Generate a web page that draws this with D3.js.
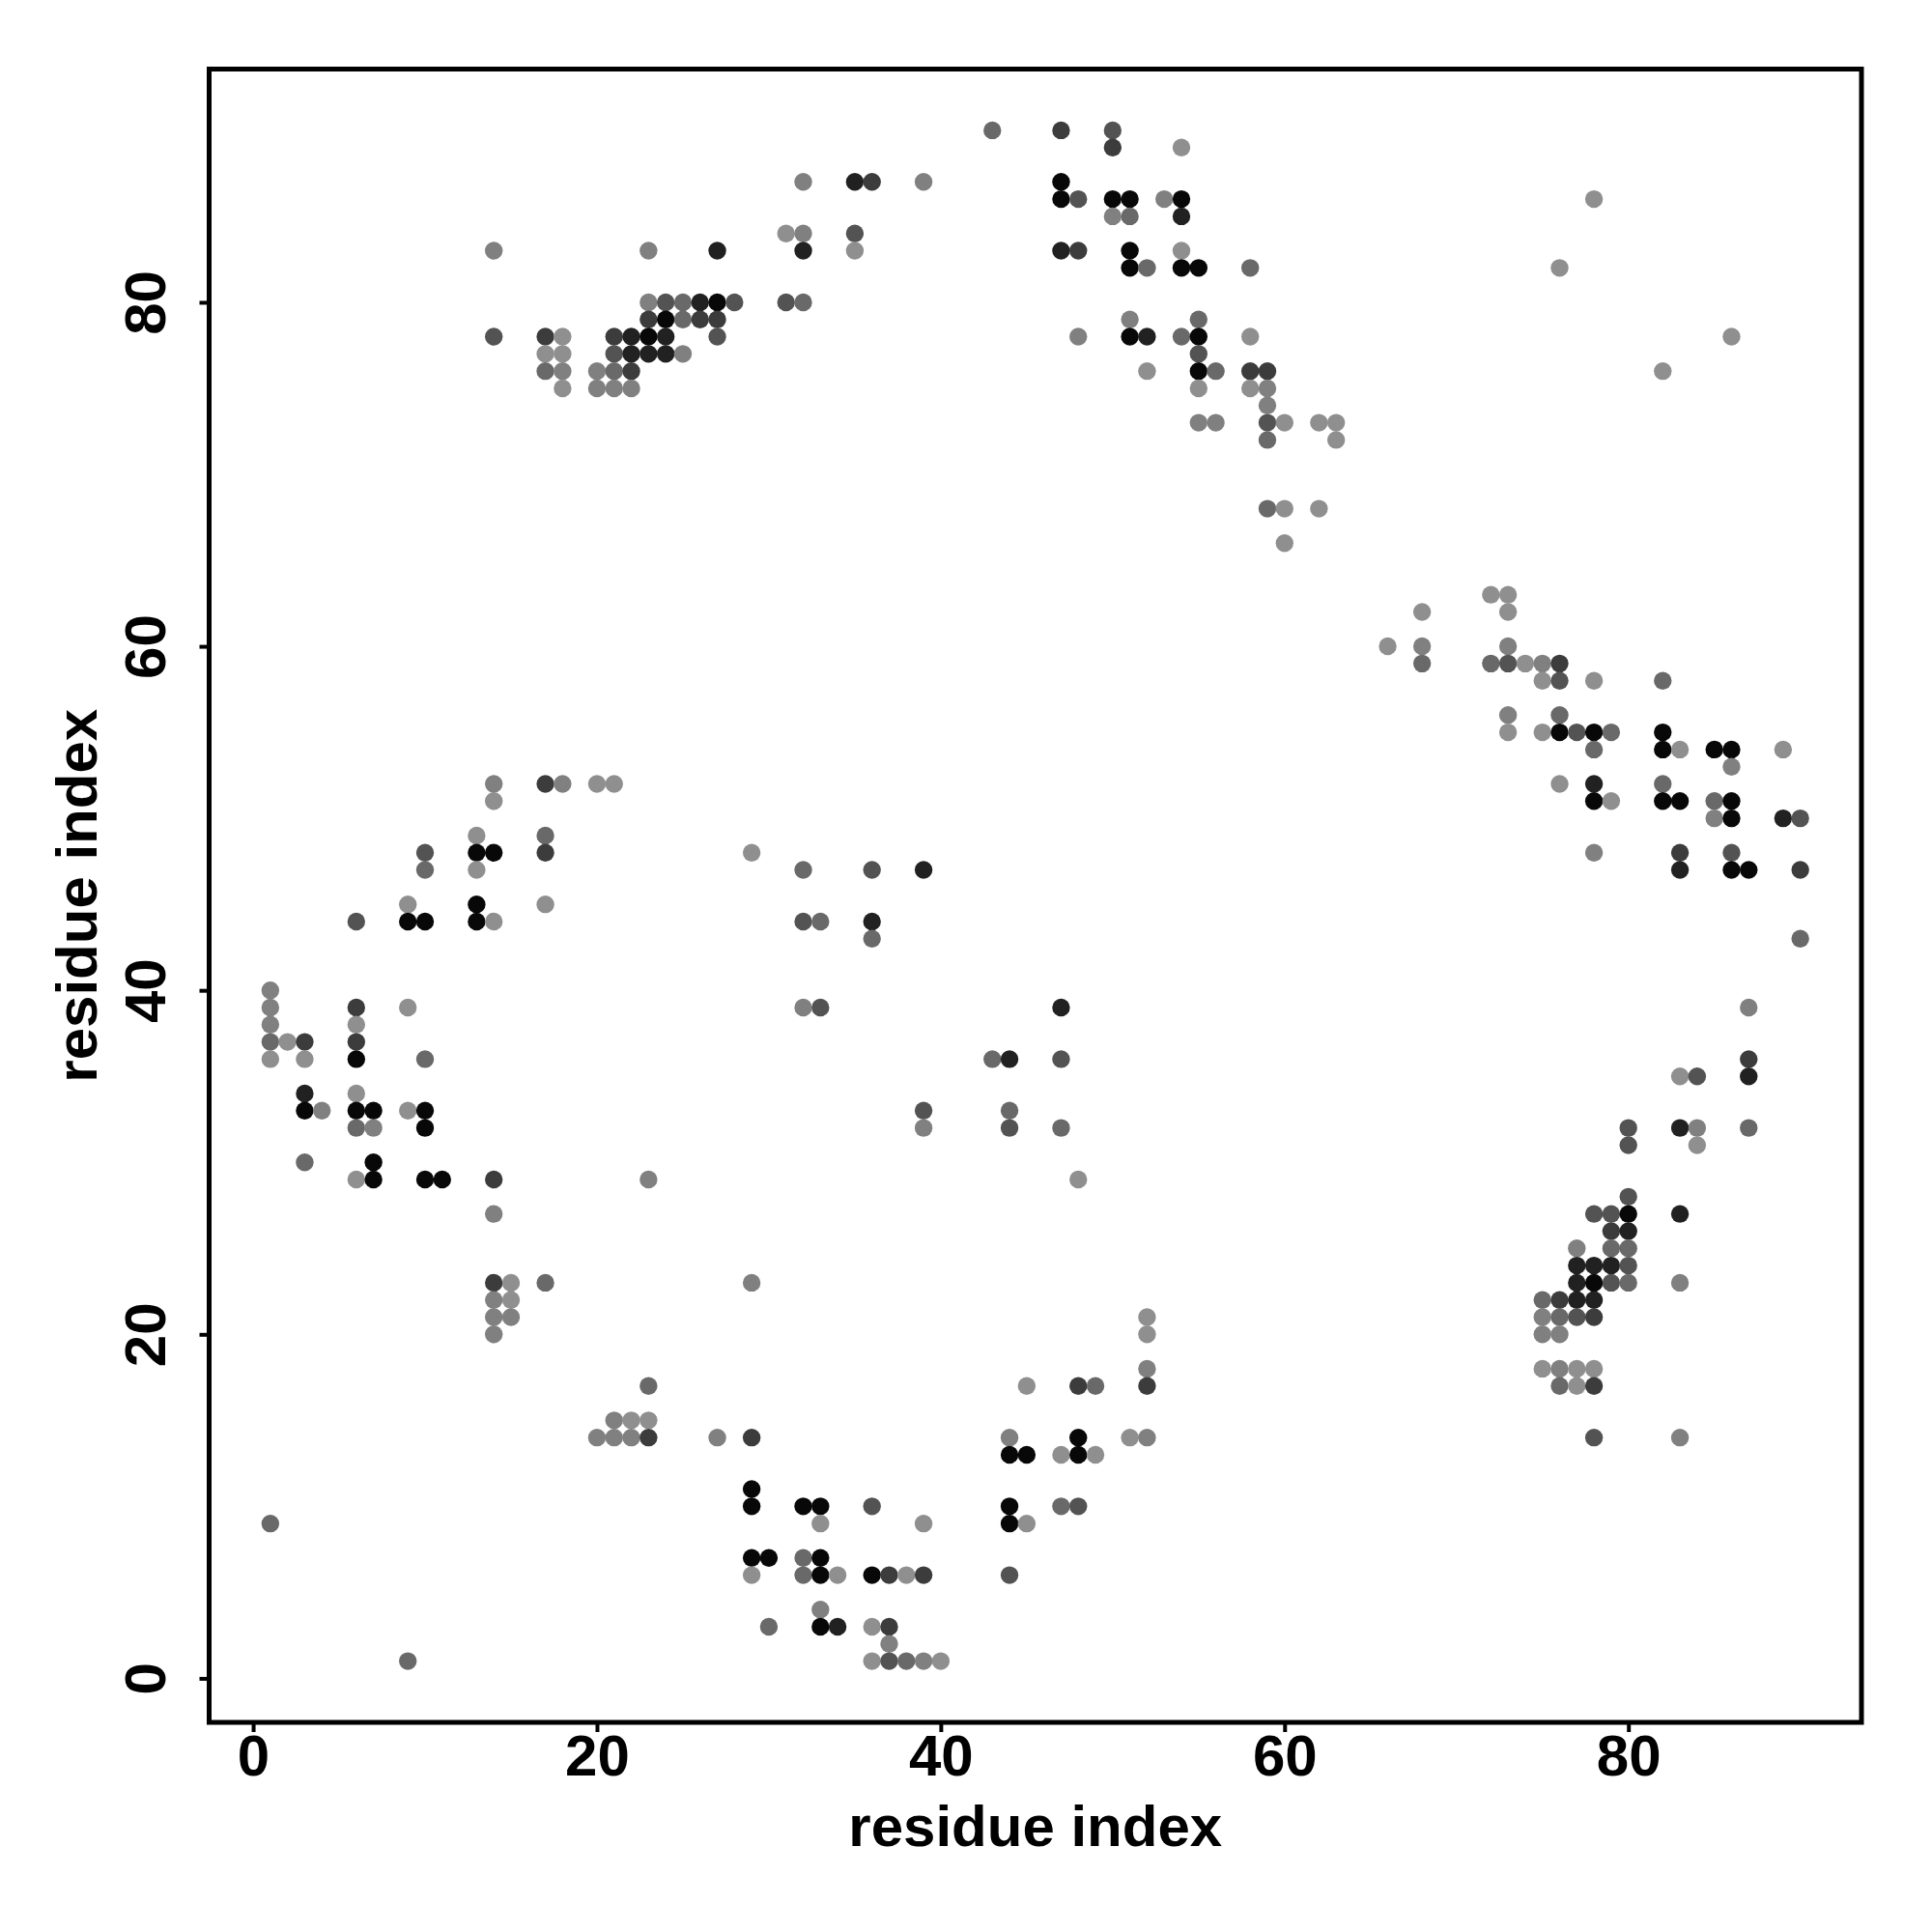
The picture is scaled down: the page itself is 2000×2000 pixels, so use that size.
<!DOCTYPE html>
<html>
<head>
<meta charset="utf-8">
<script src="https://cdn.jsdelivr.net/npm/d3@7"></script>
<style>
  body { margin: 0; background: #fff; }
  text { font-family: "Liberation Sans", Arial, sans-serif; font-weight: bold; }
</style>
</head>
<body>
<div id="chart"></div>
<script>
// contact map: one row per residue index j, listing partner residues i and the contact probability
var rowJ = [90, 89, 87, 86, 85, 84, 83, 82, 80, 79, 78, 77, 76, 75, 74, 73, 72, 68, 66, 63, 62, 60, 59, 58, 56, 55, 54, 53, 52, 51, 50,
  49, 48, 47, 45, 44, 43, 40, 39, 38, 37, 36, 35, 34, 33, 32, 31, 30, 29, 28, 27, 26, 25, 24, 23, 22, 21, 20, 18, 17, 15, 14, 13, 11,
  10, 9, 7, 6, 4, 3, 2, 1];

var rowI = [
  [43, 47, 50],
  [50, 54],
  [32, 35, 36, 39, 47],
  [47, 48, 50, 51, 53, 54, 78],
  [50, 51, 54],
  [31, 32, 35],
  [14, 23, 27, 32, 35, 47, 48, 51, 54],
  [51, 52, 54, 55, 58, 76],
  [23, 24, 25, 26, 27, 28, 31, 32],
  [23, 24, 25, 26, 27, 51, 55],
  [14, 17, 18, 21, 22, 23, 24, 27, 48, 51, 52, 54, 55, 58, 86],
  [17, 18, 21, 22, 23, 24, 25, 55],
  [17, 18, 20, 21, 22, 52, 55, 56, 58, 59, 82],
  [18, 20, 21, 22, 55, 58, 59],
  [59],
  [55, 56, 59, 60, 62, 63],
  [59, 63],
  [59, 60, 62],
  [60],
  [72, 73],
  [68, 73],
  [66, 68, 73],
  [68, 72, 73, 74, 75, 76],
  [75, 76, 78, 82],
  [73, 76],
  [73, 75, 76, 77, 78, 79, 82],
  [78, 82, 83, 85, 86, 89],
  [86],
  [14, 17, 18, 20, 21, 76, 78, 82],
  [14, 78, 79, 82, 83, 85, 86],
  [85, 86, 89, 90],
  [13, 17],
  [10, 13, 14, 17, 29, 78, 83, 86],
  [10, 13, 32, 36, 39, 83, 86, 87, 90],
  [9, 13, 17],
  [6, 9, 10, 13, 14, 32, 33, 36],
  [36, 90],
  [1],
  [1, 6, 9, 32, 33, 47, 87],
  [1, 6],
  [1, 2, 3, 6],
  [1, 3, 6, 10, 43, 44, 47, 87],
  [83, 84, 87],
  [3, 6],
  [3, 4, 6, 7, 9, 10, 39, 44],
  [6, 7, 10, 39, 44, 47, 80, 83, 84, 87],
  [80, 84],
  [3, 7],
  [6, 7, 10, 11, 14, 23, 48],
  [80],
  [14, 78, 79, 80, 83],
  [79, 80],
  [77, 79, 80],
  [77, 78, 79, 80],
  [14, 15, 17, 29, 77, 78, 79, 80, 83],
  [14, 15, 75, 76, 77, 78],
  [14, 15, 52, 75, 76, 77, 78],
  [14, 52, 75, 76],
  [52, 75, 76, 77, 78],
  [23, 45, 48, 49, 52, 76, 77, 78],
  [21, 22, 23],
  [20, 21, 22, 23, 27, 29, 44, 48, 51, 52, 78, 83],
  [44, 45, 47, 48, 49],
  [29],
  [29, 32, 33, 36, 44, 47, 48],
  [1, 33, 39, 44, 45],
  [29, 30, 32, 33],
  [29, 32, 33, 34, 36, 37, 38, 39, 44],
  [33],
  [30, 33, 34, 36, 37],
  [37],
  [9, 36, 37, 38, 39, 40]
];

var rowP = [
  [.3, .6, .45],
  [.6, .05],
  [.15, .78, .6, .15, .95],
  [.95, .45, .95, .95, .15, .95, .05],
  [.15, .3, .78],
  [.05, .15, .45],
  [.15, .15, .78, .78, .05, .78, .6, .95, .05],
  [.95, .3, .95, .95, .3, .05],
  [.15, .45, .3, .78, .95, .45, .45, .3],
  [.6, .95, .3, .6, .6, .15, .3],
  [.45, .6, .05, .6, .78, .95, .78, .45, .15, .95, .78, .3, .95, .05, .05],
  [.05, .05, .45, .78, .78, .78, .15, .45],
  [.3, .15, .15, .3, .6, .05, .95, .3, .6, .6, .05],
  [.05, .15, .15, .15, .05, .05, .15],
  [.15],
  [.15, .15, .45, .05, .05, .05],
  [.3, .05],
  [.3, .05, .05],
  [.05],
  [.05, .05],
  [.05, .05],
  [.05, .15, .15],
  [.3, .3, .45, .05, .15, .6],
  [.05, .45, .05, .3],
  [.15, .3],
  [.05, .05, .95, .45, .95, .3, .95],
  [.3, .95, .05, .95, .95, .05],
  [.15],
  [.15, .6, .15, .05, .05, .05, .78, .3],
  [.05, .95, .05, .95, .95, .3, .95],
  [.15, .95, .78, .45],
  [.05, .3],
  [.45, .95, .95, .6, .05, .15, .6, .45],
  [.3, .05, .3, .45, .78, .78, .95, .95, .6],
  [.05, .95, .05],
  [.45, .95, .95, .95, .05, .45, .3, .78],
  [.3, .3],
  [.15],
  [.15, .6, .05, .15, .45, .78, .15],
  [.15, .05],
  [.3, .05, .6, .6],
  [.05, .05, .95, .3, .3, .78, .45, .6],
  [.05, .45, .78],
  [.78, .05],
  [.95, .15, .95, .95, .05, .95, .45, .3],
  [.3, .15, .95, .15, .45, .3, .45, .78, .15, .3],
  [.45, .05],
  [.3, .95],
  [.05, .95, .95, .95, .6, .15, .05],
  [.45],
  [.15, .45, .45, .95, .78],
  [.6, .78],
  [.15, .3, .3],
  [.78, .78, .78, .45],
  [.6, .05, .3, .15, .78, .95, .45, .3, .15],
  [.15, .05, .3, .6, .78, .78],
  [.15, .15, .05, .15, .3, .45, .6],
  [.15, .05, .15, .15],
  [.15, .05, .15, .05, .05],
  [.3, .05, .6, .3, .6, .3, .05, .6],
  [.15, .05, .05],
  [.15, .15, .15, .6, .15, .6, .15, .95, .05, .15, .45, .15],
  [.95, .95, .05, .95, .05],
  [.95],
  [.95, .95, .95, .45, .95, .3, .45],
  [.3, .05, .05, .95, .05],
  [.95, .95, .3, .95],
  [.05, .3, .95, .05, .95, .6, .05, .6, .45],
  [.15],
  [.3, .95, .78, .05, .6],
  [.15],
  [.3, .05, .45, .3, .15, .05]
];

var tickValues = [0, 20, 40, 60, 80];
var xLabel = "residue index";
var yLabel = "residue index";

(function () {
  // flatten rows into points
  var points = [];
  rowJ.forEach(function (j, r) {
    rowI[r].forEach(function (i, k) {
      points.push({ i: i, j: j, p: rowP[r][k] });
    });
  });

  var W = 2000, H = 2000;
  var pLeft = 216.5, pRight = 1927, pTop = 71.5, pBottom = 1783;

  // R style axis padding: 4% of the data range on each side
  function padded(ext) {
    var d = (ext[1] - ext[0]) * 0.04;
    return [ext[0] - d, ext[1] + d];
  }

  var x = d3.scaleLinear().domain(padded(d3.extent(points, d => d.i))).range([pLeft, pRight]);
  var y = d3.scaleLinear().domain(padded(d3.extent(points, d => d.j))).range([pBottom, pTop]);
  var grey = d3.scaleLinear().domain([0, 1]).range(["#969696", "#000000"]);

  var svg = d3.select("#chart").append("svg")
    .attr("width", W).attr("height", H);

  svg.append("rect").attr("width", W).attr("height", H).attr("fill", "#fff");

  svg.append("g").selectAll("circle").data(points).enter().append("circle")
    .attr("cx", d => x(d.i))
    .attr("cy", d => y(d.j))
    .attr("r", 9.2)
    .attr("fill", d => grey(d.p));

  // axes
  var xAxisG = svg.append("g")
    .attr("transform", "translate(0," + pBottom + ")")
    .call(d3.axisBottom(x).tickValues(tickValues).tickSize(10).tickSizeOuter(0).tickPadding(2));
  var yAxisG = svg.append("g")
    .attr("transform", "translate(" + pLeft + ",0)")
    .call(d3.axisLeft(y).tickValues(tickValues).tickSize(10).tickSizeOuter(0));

  [xAxisG, yAxisG].forEach(function (g) {
    g.select(".domain").remove();
    g.selectAll(".tick line").attr("stroke", "#000").attr("stroke-width", 4);
    g.selectAll(".tick text").attr("fill", "#000").style("font-size", "60px");
  });

  // y tick labels run parallel to the axis
  yAxisG.selectAll(".tick text")
    .attr("transform", "rotate(-90)")
    .attr("x", 0).attr("y", -46).attr("dy", 0)
    .attr("text-anchor", "middle");

  // frame
  svg.append("rect")
    .attr("x", pLeft).attr("y", pTop)
    .attr("width", pRight - pLeft).attr("height", pBottom - pTop)
    .attr("fill", "none").attr("stroke", "#000").attr("stroke-width", 5);

  svg.append("text")
    .attr("x", (pLeft + pRight) / 2).attr("y", 1911)
    .attr("text-anchor", "middle")
    .style("font-size", "60px")
    .text(xLabel);

  svg.append("text")
    .attr("transform", "translate(100," + (pTop + pBottom) / 2 + ") rotate(-90)")
    .attr("text-anchor", "middle")
    .style("font-size", "60px")
    .text(yLabel);
})();
</script>
</body>
</html>
